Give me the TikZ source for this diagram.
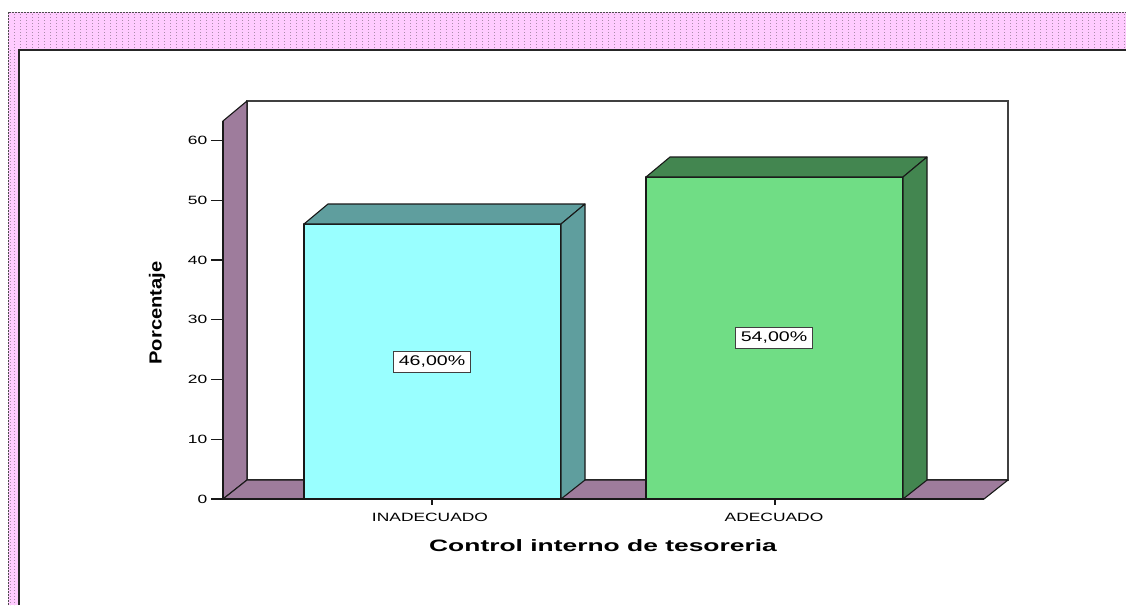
\documentclass[tikz,border=0pt]{standalone}
\usepackage{fontspec}
\setmainfont{Liberation Sans}
\definecolor{pinkband}{RGB}{255,204,255}
\definecolor{pinkdot}{RGB}{170,140,170}
\definecolor{mauve}{RGB}{158,124,156}
\definecolor{cyanfront}{RGB}{153,255,255}
\definecolor{cyanside}{RGB}{95,158,158}
\definecolor{greenfront}{RGB}{112,221,133}
\definecolor{greenside}{RGB}{67,134,80}
\begin{document}
\begin{tikzpicture}[x=1pt,y=-1pt]
    \tikzstyle{face} = [draw=black!90, line width=1.1pt,
    line join=round];
    \tikzstyle{wall} = [face, fill=mauve];
    \tikzstyle{ax} = [black!90, line width=1.3pt];
    \tikzstyle{tick} = [font=\fontsize{12}{14}\selectfont,
    xscale=1.45, anchor=east, inner sep=1pt];
    \tikzstyle{cat} = [font=\fontsize{12}{14}\selectfont,
    xscale=1.45, inner sep=1pt];
    \tikzstyle{pct} = [draw=black!75, fill=white, line width=0.9pt,
    font=\fontsize{14}{16}\selectfont, xscale=1.4,
    inner xsep=3.5pt, inner ysep=4pt, text height=10.5pt,
    text depth=3pt];

    \useasboundingbox (0,0) rectangle (1126,605);

    % pink frame
    \fill[pinkband] (8,12) rectangle (1126,50);
    \fill[pinkband] (8,12) rectangle (18,605);
    \foreach \x in {14,20,...,1124}
      \draw[pinkdot, line width=0.8pt, dash pattern=on 1pt off 2pt]
        (\x,14) -- (\x,49);
    \foreach \x in {10,14}
      \draw[pinkdot, line width=0.8pt, dash pattern=on 1pt off 2pt]
        (\x,50) -- (\x,605);
    \draw[black!70, line width=0.8pt, dash pattern=on 2pt off 1pt]
      (8,605) -- (8,12) -- (1126,12);
    \draw[black!85, line width=2pt] (19,605) -- (19,50) -- (1126,50);

    % walls and floor
    \filldraw[fill=white, draw=black!75, line width=1.1pt]
      (247,101) rectangle (1008,480);
    \filldraw[wall] (223,499) -- (223,121) -- (247,101)
      -- (247,480) -- cycle;
    \filldraw[wall] (223,499) -- (247,480) -- (1008,480)
      -- (984,499) -- cycle;

    % bars
    \filldraw[face, fill=cyanfront] (304,499) rectangle (561,224);
    \filldraw[face, fill=cyanside] (304,224) -- (328,204)
      -- (585,204) -- (561,224) -- cycle;
    \filldraw[face, fill=cyanside] (561,224) -- (585,204)
      -- (585,480) -- (561,499) -- cycle;

    \filldraw[face, fill=greenfront] (646,499) rectangle (903,177);
    \filldraw[face, fill=greenside] (646,177) -- (670,157)
      -- (927,157) -- (903,177) -- cycle;
    \filldraw[face, fill=greenside] (903,177) -- (927,157)
      -- (927,480) -- (903,499) -- cycle;

    % axes
    \draw[ax] (223,121) -- (223,499) -- (984,499);
    \foreach \v in {0,10,...,60}{
      \draw[ax] (211,{499-5.975*\v}) -- (223,{499-5.975*\v});
      \node[tick] (t\v) at (209,{499-5.975*\v}) {\v};
    }
    \draw[ax] (432,499) -- (432,505);
    \draw[ax] (775,499) -- (775,505);

    \node[cat] (inad) at (430,517) {INADECUADO};
    \node[cat] (adec) at (774,517) {ADECUADO};

    \node[pct] (p1) at (432,362) {46,00\%};
    \node[pct] (p2) at (774,338) {54,00\%};

    \node[font=\bfseries\fontsize{16.5}{19}\selectfont, xscale=1.6]
      (title) at (603,546) {Control interno de tesoreria};
    \node[font=\bfseries\fontsize{14}{16}\selectfont,
      xscale=1.25, yscale=1.44, rotate=90]
      (ylab) at (157,313) {Porcentaje};

\end{tikzpicture}
\end{document}
